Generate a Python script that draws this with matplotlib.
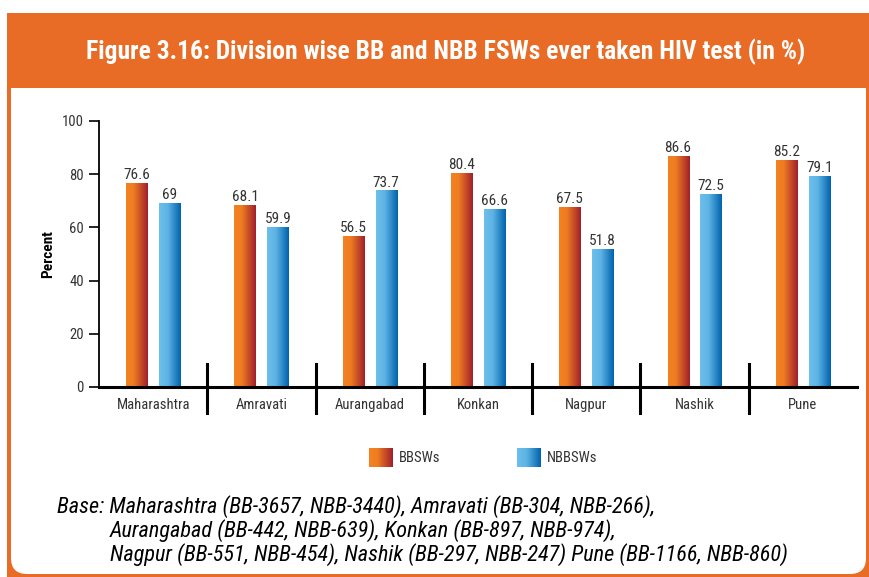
import numpy as np
import matplotlib
matplotlib.use('Agg')
import matplotlib.pyplot as plt
from matplotlib.colors import LinearSegmentedColormap
from matplotlib.patches import Rectangle, FancyBboxPatch

# data
divisions = ['Maharashtra', 'Amravati', 'Aurangabad', 'Konkan', 'Nagpur', 'Nashik', 'Pune']
bb_values = [76.6, 68.1, 56.5, 80.4, 67.5, 86.6, 85.2]
nbb_values = [69, 59.9, 73.7, 66.6, 51.8, 72.5, 79.1]
series_names = ['BBSWs', 'NBBSWs']
yticks = [0, 20, 40, 60, 80, 100]

title = 'Figure 3.16: Division wise BB and NBB FSWs ever taken HIV test (in %)'
base_lines = ['Base: Maharashtra (BB-3657, NBB-3440), Amravati (BB-304, NBB-266),',
              'Aurangabad (BB-442, NBB-639), Konkan (BB-897, NBB-974),',
              'Nagpur (BB-551, NBB-454), Nashik (BB-297, NBB-247) Pune (BB-1166, NBB-860)']

NARROW = ['Roboto Condensed', 'Roboto', 'DejaVu Sans']
ORANGE = '#E86C25'

orange_cm = LinearSegmentedColormap.from_list('o', [(0, '#F58220'), (0.35, '#EE7D22'), (1, '#A11E2B')])
blue_cm = LinearSegmentedColormap.from_list('b', [(0, '#6DC0EB'), (0.4, '#5DB3E4'), (1, '#0062AC')])
grad = np.linspace(0, 1, 256).reshape(1, -1)

W, H = 870, 577
fig = plt.figure(figsize=(W / 100, H / 100), dpi=100)

# background frame in pixel coords
bg = fig.add_axes([0, 0, 1, 1], zorder=-1)
bg.axis('off')
bg.add_patch(Rectangle((7, 13), W, H, color=ORANGE, lw=0))
bg.add_patch(FancyBboxPatch((11, 60), 855, 514, boxstyle='round,pad=0,rounding_size=16',
                            fc='white', ec='none'))
bg.add_patch(Rectangle((7, 13), W, 75, color=ORANGE, lw=0))
bg.text(446, 52, title, color='white', fontsize=18.4, fontweight='bold', family=NARROW,
        ha='center', va='center')

# legend
for i, (name, cm) in enumerate(zip(series_names, [orange_cm, blue_cm])):
    x0 = 369 + i * 148
    bg.imshow(grad, cmap=cm, extent=[x0, x0 + 24, 467, 448], aspect='auto', zorder=3)
    bg.text(x0 + 30, 458, name, fontsize=10.5, family=NARROW, color='#333333', va='center')
bg.set_xlim(0, W)
bg.set_ylim(H, 0)

# footnote
bg.text(57, 507, base_lines[0], fontsize=16, style='italic', family=NARROW, va='center')
bg.text(110, 531, base_lines[1], fontsize=16, style='italic', family=NARROW, va='center')
bg.text(110, 555, base_lines[2], fontsize=16, style='italic', family=NARROW, va='center')

# main chart
ax = fig.add_axes([99 / W, 1 - 387 / H, 758 / W, 266 / H])
ax.patch.set_alpha(0)
x = np.arange(len(divisions))
bw = 0.195
off = 0.152
b1 = ax.bar(x - off, bb_values, bw, color='none', lw=0)
b2 = ax.bar(x + off, nbb_values, bw, color='none', lw=0)
for bars, cm in [(b1, orange_cm), (b2, blue_cm)]:
    for p in bars:
        ax.imshow(grad, cmap=cm, aspect='auto', zorder=2,
                  extent=[p.get_x(), p.get_x() + p.get_width(), 0, p.get_height()])
    ax.bar_label(bars, padding=1, fontsize=11, family=NARROW, color='#333333')

ax.set_xlim(-0.5, len(divisions) - 0.5)
ax.set_ylim(0, 100)
ax.set_yticks(yticks)
ax.set_xticks(x)
ax.set_xticklabels(divisions)
ax.tick_params(axis='x', length=0, pad=8, labelsize=10.5)
ax.tick_params(axis='y', length=7, width=1.2, pad=4, labelsize=10.5)
for lab in ax.get_xticklabels() + ax.get_yticklabels():
    lab.set_family(NARROW)
    lab.set_color('#333333')
for s in ['top', 'right']:
    ax.spines[s].set_visible(False)
ax.spines['left'].set_linewidth(1.3)
ax.spines['bottom'].set_linewidth(2.2)

# group separators
for xs in x[:-1] + 0.5:
    ax.axvline(xs, ymin=-0.098, ymax=0.086, color='black', lw=2.2, clip_on=False)

ax.set_ylabel('Percent', fontsize=11, fontweight='bold', family=NARROW, labelpad=5)

fig.savefig('out.png', dpi=100)
